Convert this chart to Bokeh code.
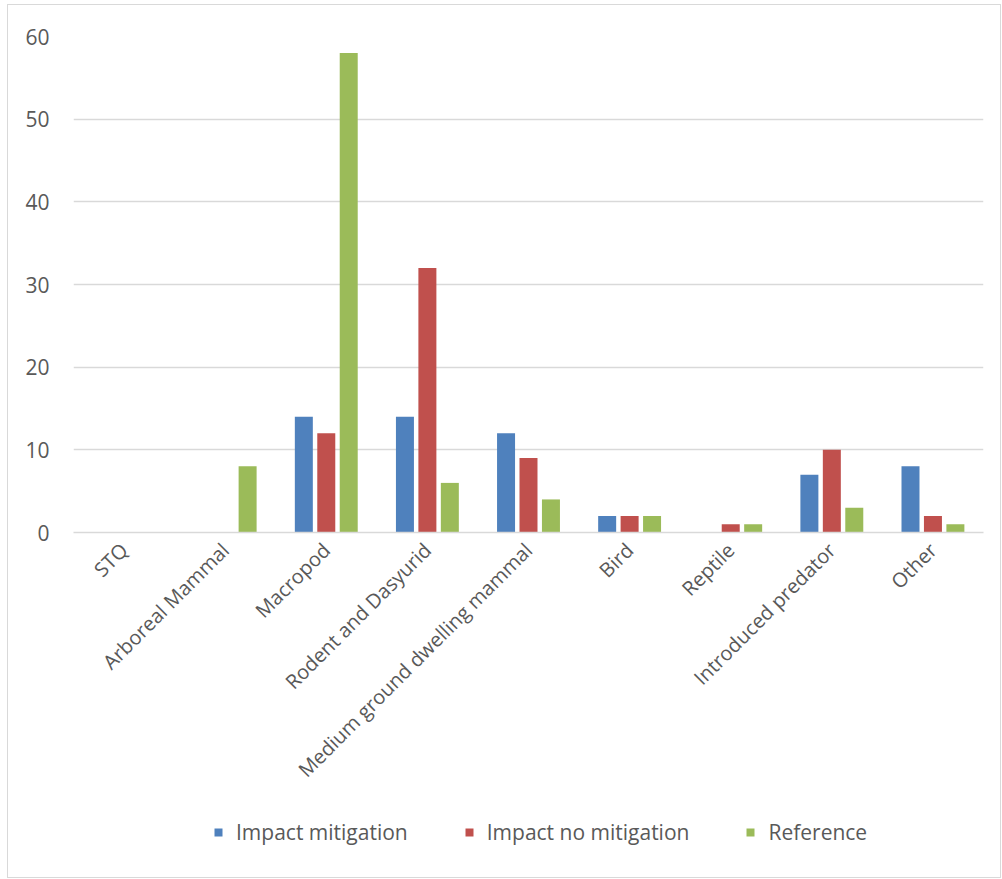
import math
from bokeh.plotting import figure
from bokeh.layouts import column
from bokeh.models import FactorRange, Range1d, Legend, LegendItem, ColumnDataSource
from bokeh.transform import dodge
from bokeh.embed import file_html
from bokeh.resources import INLINE

categories = ["STQ", "Arboreal Mammal", "Macropod", "Rodent and Dasyurid",
              "Medium ground dwelling mammal", "Bird", "Reptile",
              "Introduced predator", "Other"]
impact_mitigation = [0, 0, 14, 14, 12, 2, 0, 7, 8]
impact_no_mitigation = [0, 0, 12, 32, 9, 2, 1, 10, 2]
reference = [0, 8, 58, 6, 4, 2, 1, 3, 1]
series_names = ["Impact mitigation", "Impact no mitigation", "Reference"]
colors = ["#4F81BD", "#C0504D", "#9BBB59"]
y_ticks = [0, 10, 20, 30, 40, 50, 60]

src = ColumnDataSource(dict(cat=categories, a=impact_mitigation,
                            b=impact_no_mitigation, c=reference))

FONT = "Open Sans"
W = 992
p = figure(x_range=FactorRange(*categories), y_range=Range1d(0, 60),
           width=W, height=790, output_backend="svg", toolbar_location=None,
           min_border_left=65, min_border_right=17, min_border_top=31,
           min_border_bottom=262)
p.outline_line_color = None

for key, off, col in zip(["a", "b", "c"], [-0.222, 0.0, 0.222], colors):
    p.vbar(x=dodge("cat", off, range=p.x_range), top=key, width=0.178,
           source=src, fill_color=col, line_color=None)

p.xgrid.grid_line_color = None
p.ygrid.grid_line_color = "#D9D9D9"
p.ygrid.grid_line_width = 1.3
p.yaxis.ticker = y_ticks
p.yaxis.axis_line_color = None
p.yaxis.major_tick_line_color = None
p.yaxis.minor_tick_line_color = None
p.yaxis.major_label_text_font = FONT
p.yaxis.major_label_text_font_size = "21px"
p.yaxis.major_label_text_color = "#595959"
p.yaxis.major_label_standoff = 18

p.xaxis.axis_line_color = "#D9D9D9"
p.xaxis.axis_line_width = 1.3
p.xaxis.major_tick_line_color = None
p.xaxis.minor_tick_line_color = None
p.xaxis.major_label_orientation = math.pi / 4
p.xaxis.major_label_text_font = FONT
p.xaxis.major_label_text_font_size = "20px"
p.xaxis.major_label_text_color = "#595959"
p.xaxis.major_label_standoff = 8

# legend strip below the chart (its bars have zero height)
lf = figure(width=W, height=82, output_backend="svg", toolbar_location=None,
            x_range=Range1d(0, 1), y_range=Range1d(0, 1),
            x_axis_location=None, y_axis_location=None,
            min_border=0)
lf.grid.visible = False
lf.outline_line_color = None
dummy = ColumnDataSource(dict(x=[0.5], top=[0]))
leg_renderers = [lf.vbar(x="x", top="top", width=0.01, source=dummy,
                         fill_color=c, line_color=None, fill_alpha=1)
                 for c in colors]
lg = Legend(items=[LegendItem(label=n, renderers=[r])
                   for n, r in zip(series_names, leg_renderers)],
            location=(140, 31), orientation="horizontal",
            border_line_color=None, background_fill_alpha=0,
            glyph_width=10, glyph_height=10, label_standoff=13,
            spacing=56, padding=0, margin=0,
            label_text_font=FONT, label_text_font_size="21px",
            label_text_color="#595959")
lf.add_layout(lg, "center")

layout = column(p, lf, spacing=0)
layout.styles = {"margin-left": "7px", "margin-top": "4px",
                 "border": "1px solid #D9D9D9", "background": "white"}

open("out.html", "w").write(file_html(layout, INLINE))
